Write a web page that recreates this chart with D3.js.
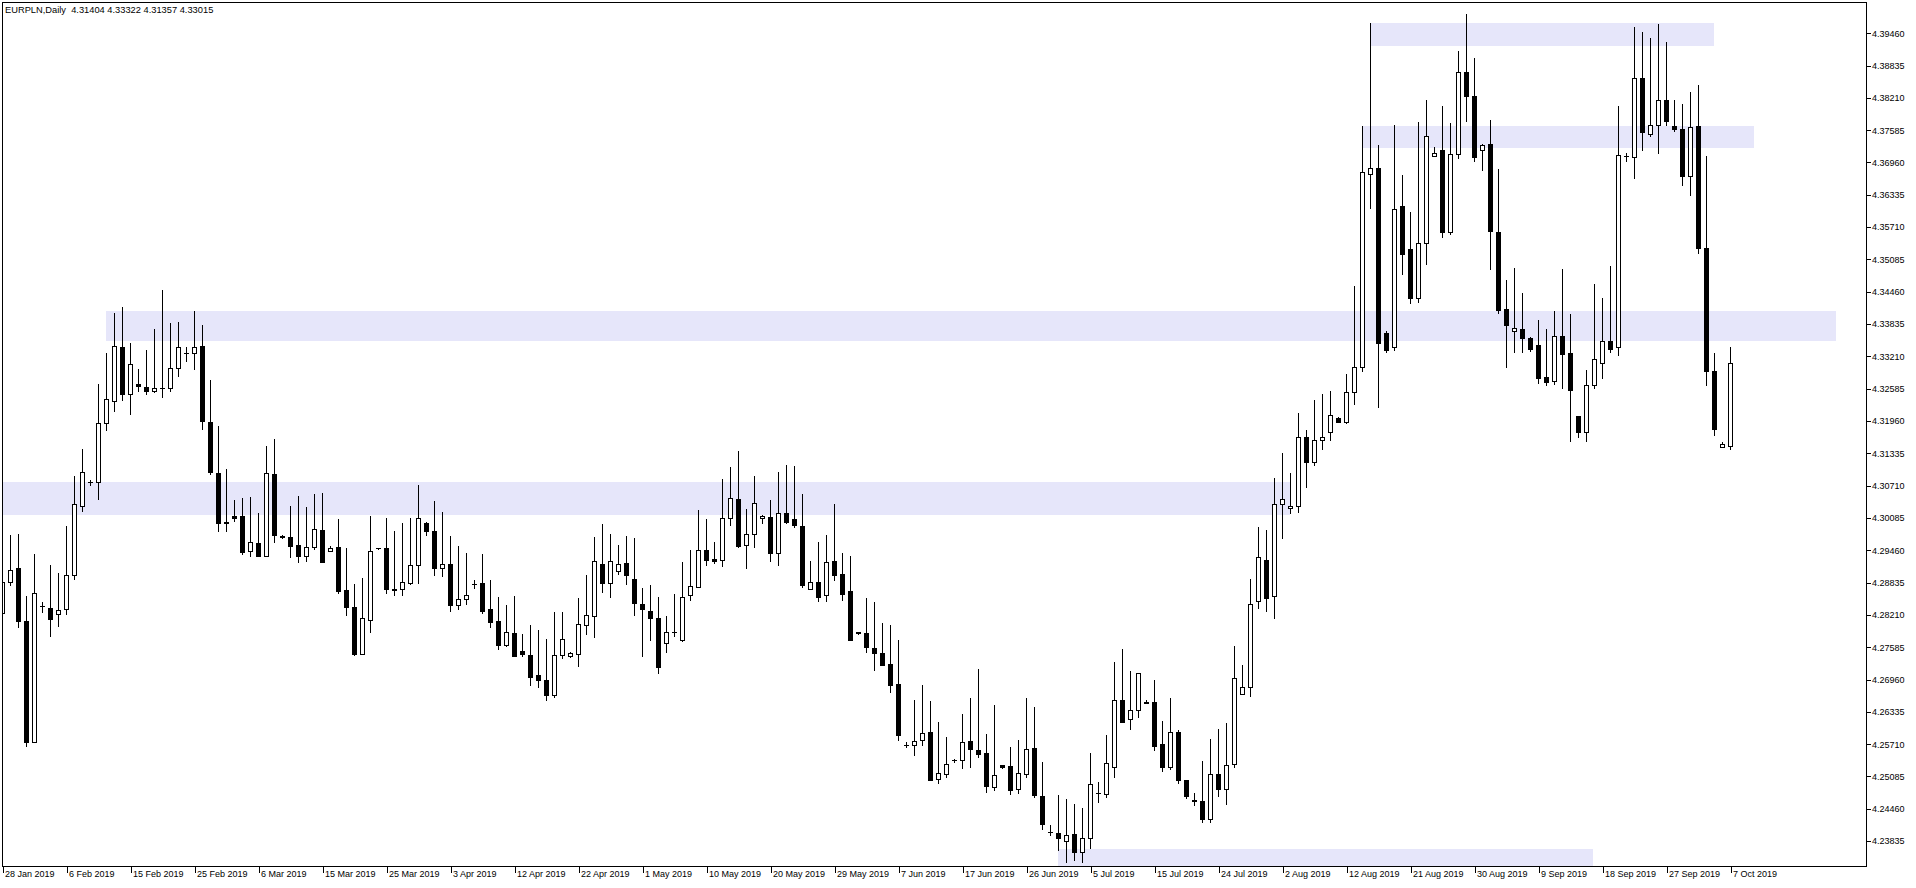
<!DOCTYPE html>
<html><head><meta charset="utf-8">
<script src="https://cdn.jsdelivr.net/npm/d3@7"></script>
<style>html,body{margin:0;padding:0;background:#fff;overflow:hidden}svg text{font-family:"Liberation Sans",Arial,sans-serif;fill:#000}</style>
</head><body><svg id="chart" width="1916" height="888"></svg>
<script>
// ---- data (EURPLN daily, one bar per trading session incl. Sunday bars) ----
const open = [
4.2817,4.2877,4.2904,4.2802,4.2569,4.2831,4.2827,4.2815,4.2825,4.2892,
4.3024,4.3071,4.3071,4.3185,4.3227,4.3332,4.3241,4.3261,4.3255,4.3247,
4.3254,4.3254,4.3291,4.3320,4.3320,4.3334,4.3187,4.3089,4.2993,4.3005,
4.3005,4.2937,4.2954,4.2929,4.3086,4.2967,4.2965,4.2949,4.2929,4.2945,
4.2978,4.2937,4.2945,4.2862,4.2829,4.2738,4.2805,4.2943,4.2943,4.2865,
4.2865,4.2876,4.2910,4.2992,4.2976,4.2905,4.2912,4.2834,4.2844,4.2874,
4.2875,4.2825,4.2803,4.2756,4.2780,4.2744,4.2736,4.2698,4.2689,4.2660,
4.2736,4.2734,4.2739,4.2794,4.2813,4.2912,4.2875,4.2900,4.2914,4.2883,
4.2836,4.2821,4.2809,4.2759,4.2781,4.2766,4.2852,4.2869,4.2939,4.2922,
4.2921,4.3001,4.3038,4.2949,4.2970,4.3001,4.3003,4.2934,4.3011,4.2999,
4.2987,4.2865,4.2877,4.2852,4.2918,4.2893,4.2860,4.2782,4.2780,4.2751,
4.2741,4.2720,4.2680,4.2563,4.2563,4.2573,4.2587,4.2496,4.2507,4.2533,
4.2533,4.2570,4.2553,4.2547,4.2482,4.2524,4.2522,4.2478,4.2507,4.2556,
4.2464,4.2394,4.2393,4.2376,4.2391,4.2356,4.2382,4.2469,4.2468,4.2520,
4.2649,4.2613,4.2631,4.2645,4.2645,4.2565,4.2520,4.2587,4.2494,4.2457,
4.2455,4.2420,4.2507,4.2478,4.2525,4.2662,4.2675,4.2842,4.2921,4.2850,
4.3028,4.3020,4.3024,4.3158,4.3109,4.3152,4.3167,4.3195,4.3188,4.3245,
4.3293,4.3667,4.3678,4.3359,4.3332,4.3605,4.3522,4.3427,4.3533,4.3702,
4.3713,4.3554,4.3706,4.3864,4.3818,4.3714,4.3725,4.3555,4.3405,4.3364,
4.3367,4.3350,4.3337,4.3274,4.3266,4.3353,4.3320,4.3198,4.3167,4.3258,
4.3301,4.3344,4.3332,4.3701,4.3699,4.3852,4.3744,4.3761,4.3810,4.3759,
4.3754,4.3663,4.3759,4.3523,4.3285,4.3138,4.31404];
const high = [
4.2888,4.2969,4.2971,4.2851,4.2932,4.2840,4.2911,4.2895,4.2987,4.3083,
4.3136,4.3075,4.3261,4.3321,4.3399,4.3410,4.3340,4.3290,4.3327,4.3367,
4.3443,4.3379,4.3381,4.3332,4.3402,4.3375,4.3269,4.3180,4.3096,4.3036,
4.3040,4.3042,4.3011,4.3141,4.3154,4.2969,4.3025,4.3044,4.3023,4.3048,
4.3050,4.2947,4.3000,4.2943,4.2874,4.2885,4.3005,4.2944,4.3001,4.2976,
4.2992,4.3001,4.3065,4.2994,4.3034,4.3013,4.2967,4.2947,4.2934,4.2881,
4.2932,4.2881,4.2849,4.2833,4.2851,4.2777,4.2794,4.2785,4.2767,4.2820,
4.2820,4.2742,4.2847,4.2891,4.2965,4.2990,4.2970,4.2949,4.2967,4.2963,
4.2866,4.2872,4.2849,4.2812,4.2854,4.2916,4.2940,4.3017,4.3000,4.2955,
4.3077,4.3100,4.3131,4.3019,4.3083,4.3007,4.3036,4.3090,4.3104,4.3102,
4.3048,4.2918,4.2955,4.2969,4.3029,4.2934,4.2928,4.2782,4.2847,4.2839,
4.2798,4.2794,4.2765,4.2568,4.2649,4.2678,4.2647,4.2607,4.2578,4.2535,
4.2622,4.2653,4.2709,4.2583,4.2640,4.2524,4.2559,4.2573,4.2653,4.2636,
4.2529,4.2407,4.2466,4.2458,4.2448,4.2441,4.2547,4.2491,4.2582,4.2723,
4.2748,4.2705,4.2701,4.2649,4.2688,4.2609,4.2654,4.2592,4.2495,4.2469,
4.2531,4.2574,4.2593,4.2606,4.2754,4.2717,4.2883,4.2984,4.2978,4.3079,
4.3127,4.3089,4.3205,4.3172,4.3230,4.3241,4.3247,4.3196,4.3280,4.3450,
4.3760,4.3959,4.3723,4.3363,4.3762,4.3665,4.3594,4.3768,4.3810,4.3719,
4.3799,4.3765,4.3905,4.3977,4.3891,4.3725,4.3772,4.3676,4.3462,4.3485,
4.3437,4.3351,4.3385,4.3367,4.3401,4.3483,4.3397,4.3198,4.3288,4.3454,
4.3427,4.3489,4.3799,4.3707,4.3952,4.3942,4.3930,4.3957,4.3922,4.3810,
4.3803,4.3826,4.3839,4.3702,4.3321,4.3149,4.33322];
const low = [
4.2811,4.2872,4.2791,4.2561,4.2568,4.2820,4.2773,4.2793,4.2815,4.2884,
4.3016,4.3066,4.3039,4.3172,4.3209,4.3229,4.3203,4.3248,4.3242,4.3245,
4.3236,4.3248,4.3276,4.3306,4.3289,4.3174,4.3087,4.2977,4.2977,4.2996,
4.2932,4.2929,4.2929,4.2929,4.2956,4.2963,4.2927,4.2917,4.2919,4.2942,
4.2917,4.2937,4.2856,4.2814,4.2737,4.2738,4.2782,4.2942,4.2857,4.2853,
4.2853,4.2874,4.2876,4.2969,4.2892,4.2890,4.2822,4.2826,4.2836,4.2866,
4.2818,4.2791,4.2749,4.2754,4.2735,4.2735,4.2678,4.2675,4.2650,4.2656,
4.2731,4.2733,4.2716,4.2778,4.2772,4.2859,4.2849,4.2894,4.2874,4.2814,
4.2735,4.2766,4.2702,4.2743,4.2774,4.2764,4.2843,4.2869,4.2911,4.2915,
4.2909,4.2989,4.2945,4.2905,4.2946,4.2992,4.2919,4.2911,4.2992,4.2985,
4.2869,4.2865,4.2842,4.2842,4.2882,4.2843,4.2766,4.2777,4.2743,4.2708,
4.2718,4.2666,4.2573,4.2559,4.2544,4.2563,4.2495,4.2489,4.2501,4.2530,
4.2518,4.2521,4.2540,4.2472,4.2476,4.2518,4.2468,4.2470,4.2501,4.2462,
4.2400,4.2389,4.2360,4.2337,4.2340,4.2337,4.2364,4.2453,4.2462,4.2500,
4.2608,4.2594,4.2617,4.2643,4.2553,4.2512,4.2516,4.2490,4.2460,4.2447,
4.2413,4.2414,4.2464,4.2449,4.2520,4.2662,4.2658,4.2828,4.2822,4.2809,
4.2963,4.3012,4.3014,4.3062,4.3105,4.3136,4.3153,4.3187,4.3186,4.3223,
4.3285,4.3602,4.3217,4.3323,4.3327,4.3473,4.3418,4.3420,4.3492,4.3702,
4.3546,4.3550,4.3697,4.3770,4.3693,4.3674,4.3483,4.3399,4.3294,4.3323,
4.3323,4.3325,4.3263,4.3258,4.3261,4.3253,4.3151,4.3159,4.3151,4.3254,
4.3273,4.3323,4.3317,4.3693,4.3660,4.3714,4.3741,4.3708,4.3761,4.3751,
4.3645,4.3627,4.3515,4.3258,4.3163,4.3138,4.31357];
const close = [
4.2877,4.2902,4.2803,4.2569,4.2856,4.2831,4.2807,4.2823,4.2892,4.3028,
4.3090,4.3071,4.3185,4.3231,4.3334,4.3242,4.3299,4.3256,4.3247,4.3253,
4.3254,4.3291,4.3332,4.3320,4.3332,4.3190,4.3090,4.2991,4.2991,4.3002,
4.2936,4.2956,4.2929,4.3088,4.2969,4.2964,4.2948,4.2929,4.2945,4.2980,
4.2917,4.2943,4.2861,4.2830,4.2738,4.2809,4.2937,4.2943,4.2865,4.2862,
4.2877,4.2910,4.3001,4.2976,4.2905,4.2912,4.2834,4.2844,4.2852,4.2874,
4.2821,4.2801,4.2756,4.2782,4.2735,4.2739,4.2694,4.2689,4.2660,4.2736,
4.2767,4.2740,4.2796,4.2814,4.2918,4.2876,4.2918,4.2912,4.2892,4.2838,
4.2826,4.2809,4.2714,4.2782,4.2781,4.2849,4.2871,4.2939,4.2921,4.2919,
4.3001,4.3040,4.2947,4.2970,4.3030,4.3005,4.2933,4.3011,4.2994,4.2989,
4.2873,4.2877,4.2849,4.2916,4.2892,4.2855,4.2766,4.2780,4.2752,4.2741,
4.2718,4.2679,4.2582,4.2563,4.2571,4.2585,4.2495,4.2509,4.2525,4.2533,
4.2569,4.2554,4.2545,4.2484,4.2505,4.2520,4.2476,4.2509,4.2554,4.2466,
4.2409,4.2394,4.2382,4.2388,4.2356,4.2382,4.2488,4.2469,4.2527,4.2649,
4.2608,4.2631,4.2701,4.2643,4.2561,4.2520,4.2587,4.2494,4.2464,4.2454,
4.2420,4.2507,4.2478,4.2523,4.2693,4.2675,4.2836,4.2927,4.2847,4.3028,
4.3038,4.3025,4.3158,4.3109,4.3152,4.3159,4.3200,4.3188,4.3245,4.3293,
4.3670,4.3678,4.3341,4.3327,4.3599,4.3513,4.3427,4.3533,4.3740,4.3707,
4.3555,4.3705,4.3864,4.3817,4.3699,4.3723,4.3557,4.3404,4.3374,4.3369,
4.3350,4.3328,4.3273,4.3265,4.3353,4.3319,4.3250,4.3167,4.3258,4.3310,
4.3344,4.3329,4.3703,4.3701,4.3852,4.3748,4.3761,4.3810,4.3770,4.3753,
4.3663,4.3758,4.3523,4.3285,4.3174,4.3144,4.33015];

// time-axis labels, one every 8 bars starting at bar 0
const timeLabels = ["28 Jan 2019","6 Feb 2019","15 Feb 2019","25 Feb 2019","6 Mar 2019","15 Mar 2019",
"25 Mar 2019","3 Apr 2019","12 Apr 2019","22 Apr 2019","1 May 2019","10 May 2019","20 May 2019",
"29 May 2019","7 Jun 2019","17 Jun 2019","26 Jun 2019","5 Jul 2019","15 Jul 2019","24 Jul 2019",
"2 Aug 2019","12 Aug 2019","21 Aug 2019","30 Aug 2019","9 Sep 2019","18 Sep 2019","27 Sep 2019","7 Oct 2019"];
const priceLabels = ["4.23835","4.24460","4.25085","4.25710","4.26335","4.26960","4.27585","4.28210",
"4.28835","4.29460","4.30085","4.30710","4.31335","4.31960","4.32585","4.33210","4.33835","4.34460",
"4.35085","4.35710","4.36335","4.36960","4.37585","4.38210","4.38835","4.39460"];

// rectangle zones (bar index from/to, price top/bottom)
const zoneFrom = [12.94, -2, 171.0, 170.0, 131.9];
const zoneTo   = [229.2, 160.9, 213.9, 218.9, 198.8];
const zoneHigh = [4.34025, 4.30716, 4.39597, 4.37604, 4.23614];
const zoneLow  = [4.33431, 4.30083, 4.39139, 4.37165, 4.22900];

const titleText = "EURPLN,Daily  4.31404 4.33322 4.31357 4.33015";

// ---- drawing ----
const W = 1916, H = 888;
const pL = 2, pT = 2, pR = 1866, pB = 866;
const x = d3.scaleLinear().domain([0, 216]).range([2.5, 1730.5]);
const y = d3.scaleLinear().domain([4.23835, 4.39460]).range([837.6, 29.7]);

const svg = d3.select('#chart');
svg.append('rect').attr('width', W).attr('height', H).attr('fill', '#fff');
svg.append('defs').append('clipPath').attr('id', 'clip')
  .append('rect').attr('x', pL).attr('y', pT).attr('width', pR - pL).attr('height', pB - pT);

const plot = svg.append('g').attr('clip-path', 'url(#clip)').attr('shape-rendering', 'crispEdges');

// zones
plot.selectAll('rect.zone').data(d3.range(zoneFrom.length)).join('rect')
  .attr('class', 'zone')
  .attr('x', k => Math.round(x(zoneFrom[k])))
  .attr('width', k => Math.round(x(zoneTo[k])) - Math.round(x(zoneFrom[k])))
  .attr('y', k => Math.round(y(zoneHigh[k])))
  .attr('height', k => Math.round(y(zoneLow[k])) - Math.round(y(zoneHigh[k])))
  .attr('fill', '#E6E6FA');

const idx = d3.range(open.length);
const R = v => Math.round(y(v));

// wicks
plot.selectAll('rect.wick').data(idx).join('rect')
  .attr('class', 'wick')
  .attr('x', i => x(i) - 0.5)
  .attr('width', 1)
  .attr('y', i => R(high[i]))
  .attr('height', i => Math.max(1, R(low[i]) - R(high[i]) + 1))
  .attr('fill', '#000');

// bodies
plot.selectAll('rect.body').data(idx).join('rect')
  .attr('class', 'body')
  .each(function (i) {
    const top = R(Math.max(open[i], close[i]));
    const bot = R(Math.min(open[i], close[i]));
    const el = d3.select(this);
    if (close[i] > open[i] && bot - top >= 1) {
      el.attr('x', x(i) - 2).attr('width', 4)
        .attr('y', top + 0.5).attr('height', bot - top)
        .attr('fill', '#fff').attr('stroke', '#000').attr('stroke-width', 1)
        .attr('shape-rendering', 'auto');
    } else {
      el.attr('x', x(i) - 2.5).attr('width', 5)
        .attr('y', top).attr('height', Math.max(1, bot - top + 1))
        .attr('fill', '#000');
    }
  });

// frame
const frame = svg.append('g').attr('stroke', '#000').attr('stroke-width', 1).attr('shape-rendering', 'crispEdges');
frame.append('line').attr('x1', pL + 0.5).attr('x2', pL + 0.5).attr('y1', pT).attr('y2', pB + 1);
frame.append('line').attr('x1', pL).attr('x2', pR + 1).attr('y1', pT + 0.5).attr('y2', pT + 0.5);
frame.append('line').attr('x1', pR + 0.5).attr('x2', pR + 0.5).attr('y1', pT).attr('y2', pB + 1);
frame.append('line').attr('x1', pL).attr('x2', pR + 1).attr('y1', pB + 0.5).attr('y2', pB + 0.5);

// price axis (terminal draws its scale marks ~3px below the exact level)
const priceVals = priceLabels.map(Number);
const yAxis = svg.append('g').attr('transform', `translate(${pR + 0.5},3.5)`)
  .call(d3.axisRight(y).tickValues(priceVals).tickSize(4).tickPadding(1.5)
    .tickFormat((d, k) => priceLabels[k]));
yAxis.select('.domain').remove();
yAxis.selectAll('.tick line').attr('stroke', '#000').attr('shape-rendering', 'crispEdges');
yAxis.selectAll('.tick text').attr('font-size', '9px').attr('font-family', '"Liberation Sans", Arial, sans-serif').attr('fill', '#000');

// time axis
const timeIdx = timeLabels.map((_, k) => k * 8);
const xAxis = svg.append('g').attr('transform', `translate(0,${pB + 0.5})`)
  .call(d3.axisBottom(x).tickValues(timeIdx).tickSize(6)
    .tickFormat((d, k) => timeLabels[k]));
xAxis.select('.domain').remove();
xAxis.selectAll('.tick line').attr('stroke', '#000').attr('shape-rendering', 'crispEdges');
xAxis.selectAll('.tick text').attr('text-anchor', 'start').attr('x', 2).attr('y', 4).attr('dy', '0.71em')
  .attr('font-size', '9px').attr('font-family', '"Liberation Sans", Arial, sans-serif').attr('fill', '#000');

// title
svg.append('text').attr('x', 5).attr('y', 13).attr('font-size', '9.3px')
  .style('white-space', 'pre').attr('xml:space', 'preserve').text(titleText);
</script></body></html>
